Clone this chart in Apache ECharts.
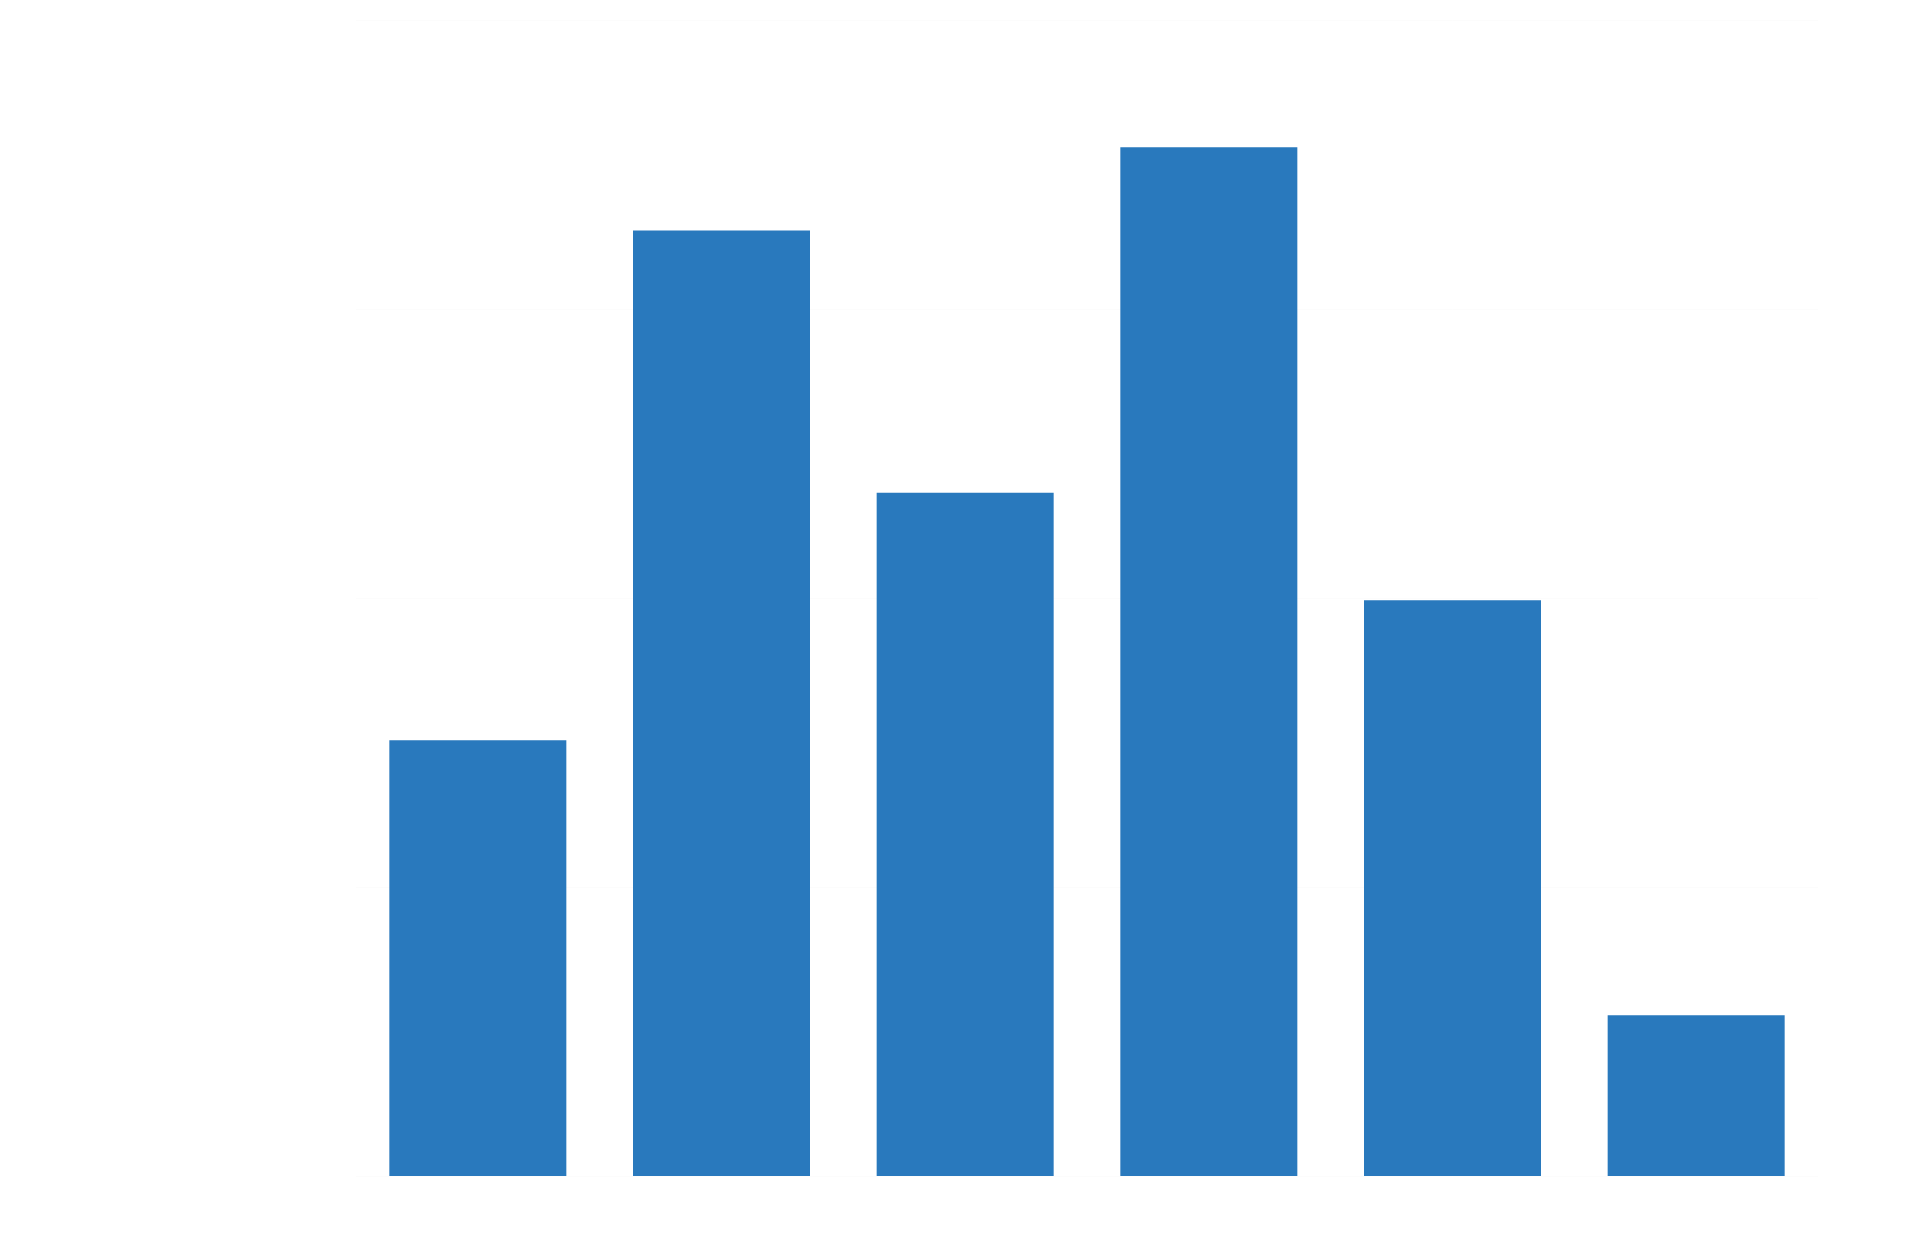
<!DOCTYPE html>
<html>
<head>
<meta charset="utf-8">
<script src="https://cdn.jsdelivr.net/npm/echarts@6/dist/echarts.min.js"></script>
<style>
html,body{margin:0;padding:0;background:#ffffff;}
#chart{width:1920px;height:1260px;}
</style>
</head>
<body>
<div id="chart"></div>
<script>
const categories = ['Category A', 'Category B', 'Category C', 'Category D', 'Category E', 'Category F'];
const values = [37.7, 81.8, 59.1, 89.0, 49.8, 13.9];
const yTicks = [0, 25, 50, 75, 100];

const chart = echarts.init(document.getElementById('chart'), null, {renderer: 'canvas'});
chart.setOption({
  animation: false,
  backgroundColor: '#ffffff',
  grid: {
    left: 356, right: 102, top: 20, bottom: 84,
    containLabel: false, outerBoundsMode: 'none'
  },
  xAxis: {
    type: 'category',
    data: categories,
    axisLine: {show: false},
    axisTick: {show: false},
    axisLabel: {color: '#ffffff', fontSize: 22, margin: 60, fontFamily: 'Noto Sans'}
  },
  yAxis: {
    type: 'value',
    min: yTicks[0],
    max: yTicks[yTicks.length - 1],
    interval: yTicks[1] - yTicks[0],
    axisLine: {show: false},
    axisTick: {show: false},
    axisLabel: {color: '#ffffff', fontSize: 24, fontFamily: 'Noto Sans'},
    splitLine: {lineStyle: {color: '#fcfcfc', width: 1}}
  },
  series: [{
    type: 'bar',
    data: values,
    barWidth: 177,
    itemStyle: {color: '#2979BD'}
  }]
});
</script>
</body>
</html>
